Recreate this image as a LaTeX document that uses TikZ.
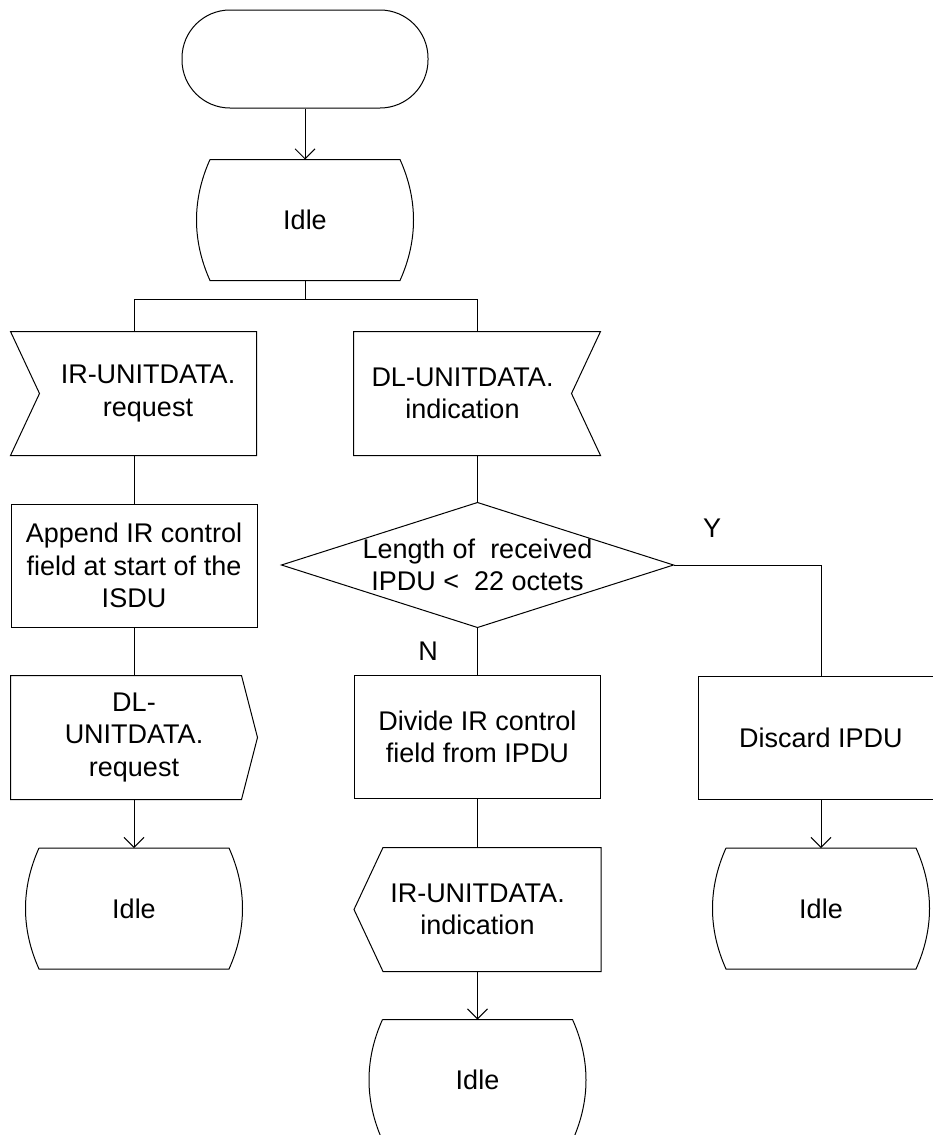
\documentclass[tikz,border=0pt]{standalone}
\usepackage{fontspec}
\setmainfont{Liberation Sans}
\usetikzlibrary{arrows.meta,calc}

\tikzset{every picture/.style={line width=1pt}}
\tikzset{
  txt/.style={font=\fontsize{27}{32.5}\selectfont, align=center, inner sep=0pt},
  termbox/.style={txt, draw, rounded corners=48pt, minimum width=246pt, minimum height=98pt},
  procbox/.style={txt, draw, minimum width=246pt, minimum height=123pt},
  sigbox/.style={txt, minimum height=123pt},
  statebox/.style={txt, minimum width=189pt, minimum height=120pt},
  decbox/.style={txt, minimum width=391pt, minimum height=124pt},
  flow/.style={-{Straight Barb[length=10pt,width=20pt]}}
}

\begin{document}
\begin{tikzpicture}[x=1pt,y=1pt,yscale=-1,xscale=1]
		\useasboundingbox (0,0) rectangle (933,1135);
		
		% Start
		\node [termbox] (start) at (305,59) {};
		% Idle (top)
		\node [statebox] (idle0) at (305,220) {Idle};
		\draw (idle0.north west) -- (idle0.north east) .. controls +(18,40) and +(18,-40) .. (idle0.south east) -- (idle0.south west) .. controls +(-18,-40) and +(-18,40) .. (idle0.north west);
		
		% Input IR-UNITDATA.request
		\node [sigbox, minimum width=216pt] (irreq) at (148,393.5) {IR-UNITDATA.\\request};
		\draw (irreq.north east) -- (irreq.south east) -- ($(irreq.south west)+(-29,0)$) -- (irreq.west) -- ($(irreq.north west)+(-29,0)$) -- cycle;
		% Input DL-UNITDATA.indication
		\node [sigbox, minimum width=217pt] (dlind) at (462.5,393.5) {DL-UNITDATA.\\indication};
		\draw (dlind.north west) -- ($(dlind.north east)+(29,0)$) -- (dlind.east) -- ($(dlind.south east)+(29,0)$) -- (dlind.south west) -- cycle;
		
		% Task Append
		\node [procbox] (append) at (134,565.5) {Append IR control\\field at start of the\\ISDU};
		% Output DL-UNITDATA.request
		\node [sigbox, minimum width=246pt] (dlreq) at (134,737.5) {DL-\\UNITDATA.\\request};
		\draw (dlreq.north west) -- ($(dlreq.north east)+(-16,0)$) -- (dlreq.east) -- ($(dlreq.south east)+(-16,0)$) -- (dlreq.south west) -- cycle;
		% Idle (left)
		\node [statebox] (idle1) at (134,908.5) {Idle};
		\draw (idle1.north west) -- (idle1.north east) .. controls +(18,40) and +(18,-40) .. (idle1.south east) -- (idle1.south west) .. controls +(-18,-40) and +(-18,40) .. (idle1.north west);
		
		% Decision
		\node [decbox] (len) at (477.5,565) {Length of \ received\\IPDU < \ 22 octets};
		\draw (len.north) -- (len.east) -- (len.south) -- (len.west) -- cycle;
		% Task Divide
		\node [procbox] (divide) at (477.5,737) {Divide IR control\\field from IPDU};
		% Output IR-UNITDATA.indication
		\node [sigbox, minimum width=246pt] (irind) at (477.5,909.5) {IR-UNITDATA.\\indication};
		\draw (irind.north east) -- (irind.south east) -- ($(irind.south west)+(29,0)$) -- (irind.west) -- ($(irind.north west)+(29,0)$) -- cycle;
		% Idle (middle)
		\node [statebox] (idle2) at (477.5,1080) {Idle};
		\draw (idle2.north west) -- (idle2.north east) .. controls +(18,40) and +(18,-40) .. (idle2.south east) -- (idle2.south west) .. controls +(-18,-40) and +(-18,40) .. (idle2.north west);
		
		% Task Discard
		\node [procbox] (discard) at (821,737.5) {Discard IPDU};
		% Idle (right)
		\node [statebox] (idle3) at (821,908.5) {Idle};
		\draw (idle3.north west) -- (idle3.north east) .. controls +(18,40) and +(18,-40) .. (idle3.south east) -- (idle3.south west) .. controls +(-18,-40) and +(-18,40) .. (idle3.north west);
		
		% Text Node
		\node [txt] (yes) at (712,528) {Y};
		% Text Node
		\node [txt] (no) at (428,651) {N};
		
		%Connectors
		\coordinate (fork) at (305,299);
		\draw [flow] (start) -- (idle0);
		\draw (idle0.south) -- (fork);
		\draw (append.north |- fork) -- (len.north |- fork);
		\draw (append.north |- fork) -- (append.north |- irreq.north);
		\draw (len.north |- fork) -- (len.north |- dlind.north);
		\draw (append.north |- irreq.south) -- (append.north);
		\draw (append) -- (dlreq);
		\draw [flow] (dlreq) -- (idle1);
		\draw (len.north |- dlind.south) -- (len.north);
		\draw (len) -- (divide);
		\draw (divide) -- (irind);
		\draw [flow] (irind) -- (idle2);
		\draw (len.east) -| (discard.north);
		\draw [flow] (discard) -- (idle3);
\end{tikzpicture}
\end{document}
